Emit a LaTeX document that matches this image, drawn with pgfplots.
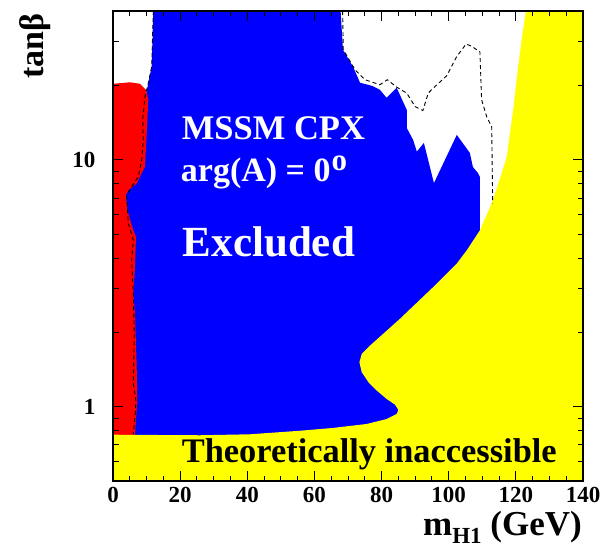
\documentclass[border=0pt]{standalone}
\usepackage{fontspec}
\setmainfont{Liberation Serif}
\usepackage{pgfplots}
\pgfplotsset{compat=1.18}
\definecolor{exclblue}{RGB}{0,0,255}
\definecolor{exclred}{RGB}{255,0,0}
\definecolor{theoyellow}{RGB}{255,255,0}
\begin{document}
\begin{tikzpicture}[x=1pt,y=1pt]
\useasboundingbox (0,0) rectangle (600,550);
\begin{axis}[
  at={(113pt,69pt)}, anchor=south west,
  scale only axis, width=470pt, height=470pt,
  xmin=0, xmax=140, ymin=0.5, ymax=40, ymode=log,
  xtick={0,20,...,140}, minor xtick={5,10,...,135},
  ytick={1,10}, yticklabels={1,10},
  minor ytick={0.6,0.7,0.8,0.9,2,3,4,5,6,7,8,9,20,30},
  axis on top,
  axis line style={line width=1.2pt},
  every tick/.style={black, line width=0.9pt},
  major tick length=10pt, minor tick length=5.5pt,
  tick align=inside,
  ticklabel style={font=\fontsize{23}{23}\selectfont\bfseries},
  xticklabel style={yshift=-3pt},
  yticklabel style={xshift=-14pt},
  /pgf/number format/assume math mode=true,
]
% excluded region
\addplot[fill=exclblue, draw=none] coordinates {
 (12.0,40) (11.53,23.86) (10.52,20.43) (9.53,17.48) (0,15.9) (0,0.5)
 (115.3,0.5) (115.3,5.18) (109.3,5.18) (109.3,8.51) (108.7,8.83)
 (107.2,9.34) (106.3,10.65) (102.4,12.60) (95.6,8.04) (92.6,11.69)
 (90.5,10.78) (89.4,12.02) (87.5,13.45) (87.5,15.91) (84.5,19.55)
 (81.5,17.80) (79.5,19.19) (77.1,19.92) (73.6,20.48) (71.5,23.79)
 (68.5,27.89) (67.8,40)
} -- cycle;
% low-mass region
\addplot[fill=exclred, draw=none] coordinates {
 (0,20.29) (5.06,20.58) (8.04,20.29) (9.83,19.19) (10.52,17.48)
 (10.04,12.80) (9.53,9.37) (7.06,8.02) (4.56,7.53) (3.87,7.19)
 (4.26,6.25) (6.05,5.18) (6.85,4.87) (6.55,3.68) (6.05,2.87)
 (6.55,2.38) (7.06,1.444) (7.24,1.058) (6.55,0.775) (6.55,0.7) (0,0.7)
} -- cycle;
% theoretically inaccessible
\addplot[fill=theoyellow, draw=none] coordinates {
 (0,0.5) (0,0.770) (25.9,0.766) (40.8,0.773) (55.7,0.799) (65.5,0.820)
 (75.6,0.851) (81.5,0.891) (84.5,0.934) (85.0,0.970) (84.0,1.019)
 (81.5,1.075) (78.6,1.161) (76.1,1.255) (74.1,1.378) (73.4,1.513)
 (74.1,1.637) (76.6,1.769) (85.5,2.270) (95.4,3.051) (102.4,3.797)
 (105.4,4.30) (109.3,5.18) (113.2,6.86) (117.3,10.28) (119.2,15.91)
 (120.7,23.86) (122.0,32.6) (123.0,40) (140,40) (140,0.5)
} -- cycle;
% expected limits
\addplot[black, line width=0.9pt, dash pattern=on 4pt off 3pt] coordinates {
 (68.4,40) (68.6,27.89) (72.1,23.13) (75.1,21.07) (79.5,20.11)
 (81.7,21.07) (84.5,19.68) (87.5,18.60) (90.0,16.41) (92.3,15.81)
 (93.9,18.60) (95.4,19.50) (99.4,21.87) (102.4,26.19) (105.2,29.41)
 (106.9,28.76) (109.3,27.29) (109.8,17.48) (111.3,14.95) (112.8,13.61)
 (113.1,6.65)
};
\addplot[black, line width=0.9pt, dash pattern=on 4pt off 3pt] coordinates {
 (12.0,40) (11.53,23.86) (10.52,20.43) (9.53,18.03) (8.85,14.50)
 (9.03,12.02) (8.55,9.97) (7.54,8.53) (5.57,7.77) (4.08,7.19)
 (4.56,5.52) (6.05,4.72) (5.57,3.91) (6.05,2.87) (6.34,1.973)
 (6.05,1.236) (6.85,1.058) (6.55,0.905) (6.05,0.775)
};
\node[anchor=base west, inner sep=0, white, font=\fontsize{34.5}{34.5}\selectfont\bfseries]
  at (axis cs:20.46,12.10) {MSSM CPX};
\node[anchor=base west, inner sep=0, white, font=\fontsize{34}{34}\selectfont\bfseries]
  at (axis cs:20.17,8.14) {arg(A) = 0\kern1pt\raisebox{11pt}{\fontsize{31}{31}\selectfont o}};
\node[anchor=base west, inner sep=0, white, font=\fontsize{43}{43}\selectfont\bfseries]
  at (axis cs:20.76,4.04) {Excluded};
\node[anchor=base west, inner sep=0, black, font=\fontsize{34.4}{34.4}\selectfont\bfseries]
  at (axis cs:20.46,0.594) {Theoretically inaccessible};
\end{axis}
\node[anchor=base east, inner sep=0, font=\fontsize{35}{35}\selectfont\bfseries]
  at (582,15) {m\raisebox{-8pt}{\fontsize{23}{23}\selectfont H1} (GeV)};
\node[rotate=90, anchor=base east, inner sep=0, font=\fontsize{34}{34}\selectfont\bfseries]
  at (43,536.7) {tanβ};
\end{tikzpicture}
\end{document}
